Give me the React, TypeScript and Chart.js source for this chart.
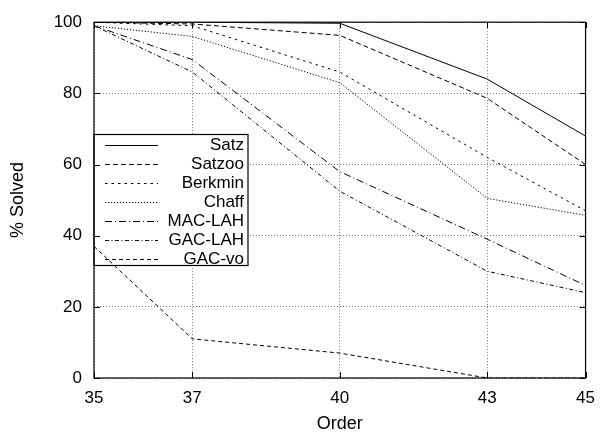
import { useEffect, useRef } from "react";
import { Chart, registerables } from "chart.js";

Chart.register(...registerables);

// ---- data ----
const orders = [35, 37, 40, 43, 45];
const xTickValues = [35, 37, 40, 43, 45];
const yTickStep = 20;
const seriesNames = ["Satz", "Satzoo", "Berkmin", "Chaff", "MAC-LAH", "GAC-LAH", "GAC-vo"];
const satz = [100, 100, 99.7, 84, 68];
const satzoo = [100, 99.5, 96.3, 78.6, 60];
const berkmin = [100, 99, 86, 62, 47];
const chaff = [99, 96, 83, 50.5, 45.7];
const macLah = [99, 89.5, 58, 39, 26];
const gacLah = [99, 86, 52.5, 30, 24];
const gacVo = [37, 11, 7, 0, 0];

const seriesValues = [satz, satzoo, berkmin, chaff, macLah, gacLah, gacVo];
const seriesDashes: number[][] = [[], [5, 3], [2.5, 4], [1.2, 1.8], [7, 3, 1, 3], [4, 2.5, 1, 2.5], [4, 3]];

const FONT = "'Liberation Sans', Arial, Helvetica, sans-serif";

const framePlugin = {
  id: "gnuFrame",
  beforeDatasetsDraw(chart: any) {
    const o = chart.options.plugins.gnuFrame;
    const ctx = chart.ctx;
    ctx.save();
    ctx.fillStyle = "#ffffff";
    ctx.fillRect(o.box.x, o.box.y, o.box.w, o.box.h);
    ctx.restore();
  },
  afterDatasetsDraw(chart: any) {
    const o = chart.options.plugins.gnuFrame;
    const ctx = chart.ctx;
    const { left, right, top, bottom } = chart.chartArea;
    const xs = chart.scales.x;
    const ys = chart.scales.y;
    ctx.save();
    ctx.setLineDash([]);
    ctx.strokeStyle = "#000";
    ctx.lineWidth = 1.2;
    ctx.strokeRect(left, top, right - left, bottom - top);
    ctx.lineWidth = 1;
    const tl = o.tickLen;
    xs.ticks.forEach((t: any) => {
      const px = Math.round(xs.getPixelForValue(t.value)) + 0.5;
      ctx.beginPath();
      ctx.moveTo(px, bottom);
      ctx.lineTo(px, bottom - tl);
      ctx.moveTo(px, top);
      ctx.lineTo(px, top + tl);
      ctx.stroke();
    });
    ys.ticks.forEach((t: any) => {
      const py = Math.round(ys.getPixelForValue(t.value)) + 0.5;
      ctx.beginPath();
      ctx.moveTo(left, py);
      ctx.lineTo(left + tl, py);
      ctx.moveTo(right, py);
      ctx.lineTo(right - tl, py);
      ctx.stroke();
    });
    // legend
    const b = o.box;
    ctx.lineWidth = 1.2;
    ctx.strokeRect(b.x, b.y, b.w, b.h);
    ctx.font = `${o.fontSize}px ${FONT}`;
    ctx.textAlign = "right";
    ctx.textBaseline = "middle";
    ctx.fillStyle = "#000";
    chart.data.datasets.forEach((ds: any, i: number) => {
      const y = Math.round(b.y + o.firstRow + i * o.rowH) + 0.5;
      ctx.lineWidth = 1;
      ctx.setLineDash(ds.borderDash || []);
      ctx.beginPath();
      ctx.moveTo(o.sampleX0, y);
      ctx.lineTo(o.sampleX1, y);
      ctx.stroke();
      ctx.setLineDash([]);
      ctx.fillText(ds.label, o.textRight, y);
    });
    ctx.restore();
  },
};

export default function App() {
  const ref = useRef<HTMLCanvasElement | null>(null);
  useEffect(() => {
    if (!ref.current) return;
    const chart = new Chart(ref.current, {
      type: "line",
      data: {
        datasets: seriesNames.map((name, i) => ({
          label: name,
          data: orders.map((x, j) => ({ x, y: seriesValues[i][j] })),
          borderColor: "#000",
          borderWidth: 1,
          borderDash: seriesDashes[i],
          pointRadius: 0,
          fill: false,
          tension: 0,
        })),
      },
      options: {
        animation: false,
        responsive: false,
        devicePixelRatio: 1,
        layout: { padding: { top: 20, right: 14, left: 0, bottom: 0 } },
        plugins: {
          legend: { display: false },
          tooltip: { enabled: false },
          gnuFrame: {
            tickLen: 6,
            fontSize: 17,
            box: { x: 94, y: 134.5, w: 154, h: 131 },
            firstRow: 10,
            rowH: 19,
            sampleX0: 105,
            sampleX1: 158,
            textRight: 244,
          },
        } as any,
        scales: {
          x: {
            type: "linear",
            min: 35,
            max: 45,
            afterBuildTicks: (s: any) => {
              s.ticks = xTickValues.map((v) => ({ value: v }));
            },
            afterFit: (s: any) => {
              s.height = 55;
            },
            grid: { color: "#777777", lineWidth: 1, drawTicks: false },
            border: { display: false, dash: [1, 2] },
            ticks: {
              padding: 10,
              color: "#000",
              font: { family: FONT, size: 17 },
              maxRotation: 0,
              callback: (v: any) => String(v),
            },
            title: {
              display: true,
              text: "Order",
              color: "#000",
              font: { family: FONT, size: 18, lineHeight: 1 },
              padding: { top: 0, bottom: 0 },
            },
          },
          y: {
            min: 0,
            max: 100,
            afterFit: (s: any) => {
              s.width = 94;
            },
            grid: { color: "#777777", lineWidth: 1, drawTicks: false },
            border: { display: false, dash: [1, 2] },
            ticks: {
              stepSize: yTickStep,
              padding: 12,
              color: "#000",
              font: { family: FONT, size: 17 },
            },
            title: {
              display: true,
              text: "% Solved",
              color: "#000",
              font: { family: FONT, size: 18, lineHeight: 1 },
              padding: { top: 9, bottom: 0 },
            },
          },
        },
      },
      plugins: [framePlugin],
    });
    return () => chart.destroy();
  }, []);
  return (
    <div style={{ position: "absolute", left: 0, top: 0, width: 605, height: 433, background: "#fff" }}>
      <canvas ref={ref} width={605} height={433} />
    </div>
  );
}
